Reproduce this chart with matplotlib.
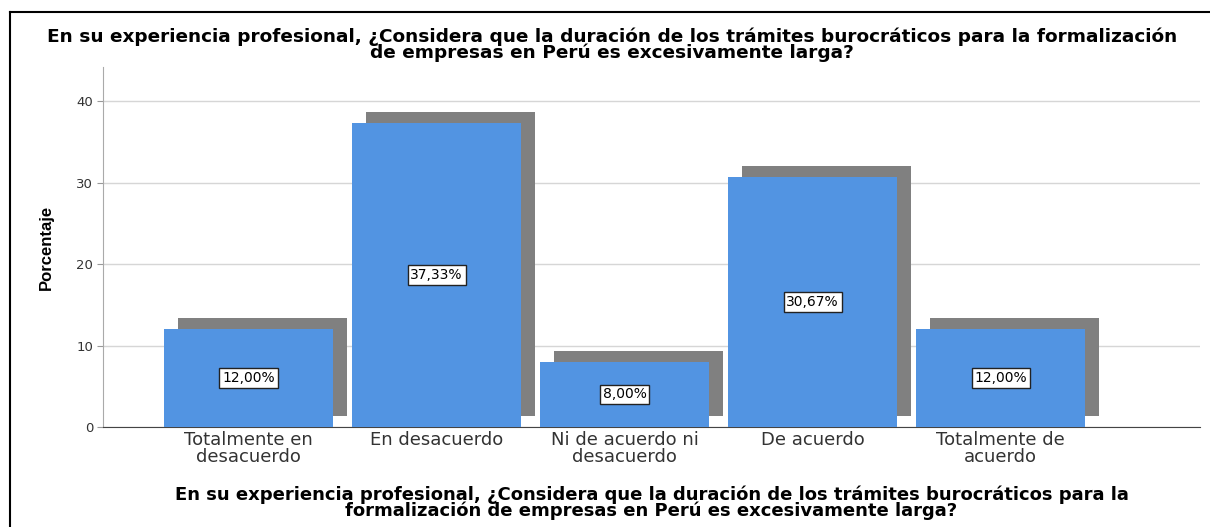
import matplotlib.pyplot as plt
import matplotlib.transforms as mtransforms
from matplotlib.lines import Line2D

categorias = ['Totalmente en\ndesacuerdo', 'En desacuerdo', 'Ni de acuerdo ni\ndesacuerdo',
              'De acuerdo', 'Totalmente de\nacuerdo']
porcentajes = [12.00, 37.33, 8.00, 30.67, 12.00]
etiquetas = ['12,00%', '37,33%', '8,00%', '30,67%', '12,00%']
yticks = [0, 10, 20, 30, 40]

titulo = ('En su experiencia profesional, ¿Considera que la duración de los trámites burocráticos para la formalización\n'
          'de empresas en Perú es excesivamente larga?')
xtitulo = ('En su experiencia profesional, ¿Considera que la duración de los trámites burocráticos para la\n'
           'formalización de empresas en Perú es excesivamente larga?')

plt.rcParams['font.family'] = ['DejaVu Sans']

fig = plt.figure(figsize=(12.1, 5.27), dpi=100)
ax = fig.add_axes([0.0851, 0.1898, 0.9066, 0.6831])

x = list(range(len(categorias)))

# sombra gris desplazada
sombra = ax.transData + mtransforms.ScaledTranslation(0.14, 0.11, fig.dpi_scale_trans)
ax.bar(x, porcentajes, width=0.9, color='#808080', transform=sombra, zorder=2)
ax.bar(x, porcentajes, width=0.9, color='#5294E2', zorder=3)

for xi, v, t in zip(x, porcentajes, etiquetas):
    ax.text(xi, v / 2, t, ha='center', va='center', fontsize=10, zorder=5,
            bbox=dict(boxstyle='square,pad=0.2', fc='white', ec='#222222', lw=1))

ax.set_xlim(-0.774, 5.06)
ax.set_ylim(0, 44.2)
ax.set_yticks(yticks)
ax.yaxis.grid(True, color='#d6d6d6', lw=1)
ax.set_axisbelow(True)
ax.set_xticks(x)
ax.set_xticklabels(categorias, fontsize=13, color='#333333', linespacing=0.92)
ax.tick_params(axis='x', length=0, pad=3)
ax.tick_params(axis='y', labelsize=9.5, length=4, color='#999999', pad=3, labelcolor='#333333')

for s in ['top', 'right']:
    ax.spines[s].set_visible(False)
ax.spines['left'].set_color('#aaaaaa')
ax.spines['bottom'].set_color('#444444')

ax.set_ylabel('Porcentaje', fontsize=12, fontweight='bold',
              family=['Liberation Sans'], labelpad=16)
ax.set_xlabel(xtitulo, fontsize=13, fontweight='bold', linespacing=0.85, labelpad=14)

fig.text(0.506, 0.948, titulo, ha='center', va='top', fontsize=13.3, fontweight='bold',
         linespacing=0.82)

# marco
fig.add_artist(Line2D([10 / 1210, 1], [1 - 12 / 527, 1 - 12 / 527], color='black', lw=1.5,
                      transform=fig.transFigure))
fig.add_artist(Line2D([10 / 1210, 10 / 1210], [0, 1 - 12 / 527], color='black', lw=1.5,
                      transform=fig.transFigure))

fig.savefig('out.png', dpi=100)
